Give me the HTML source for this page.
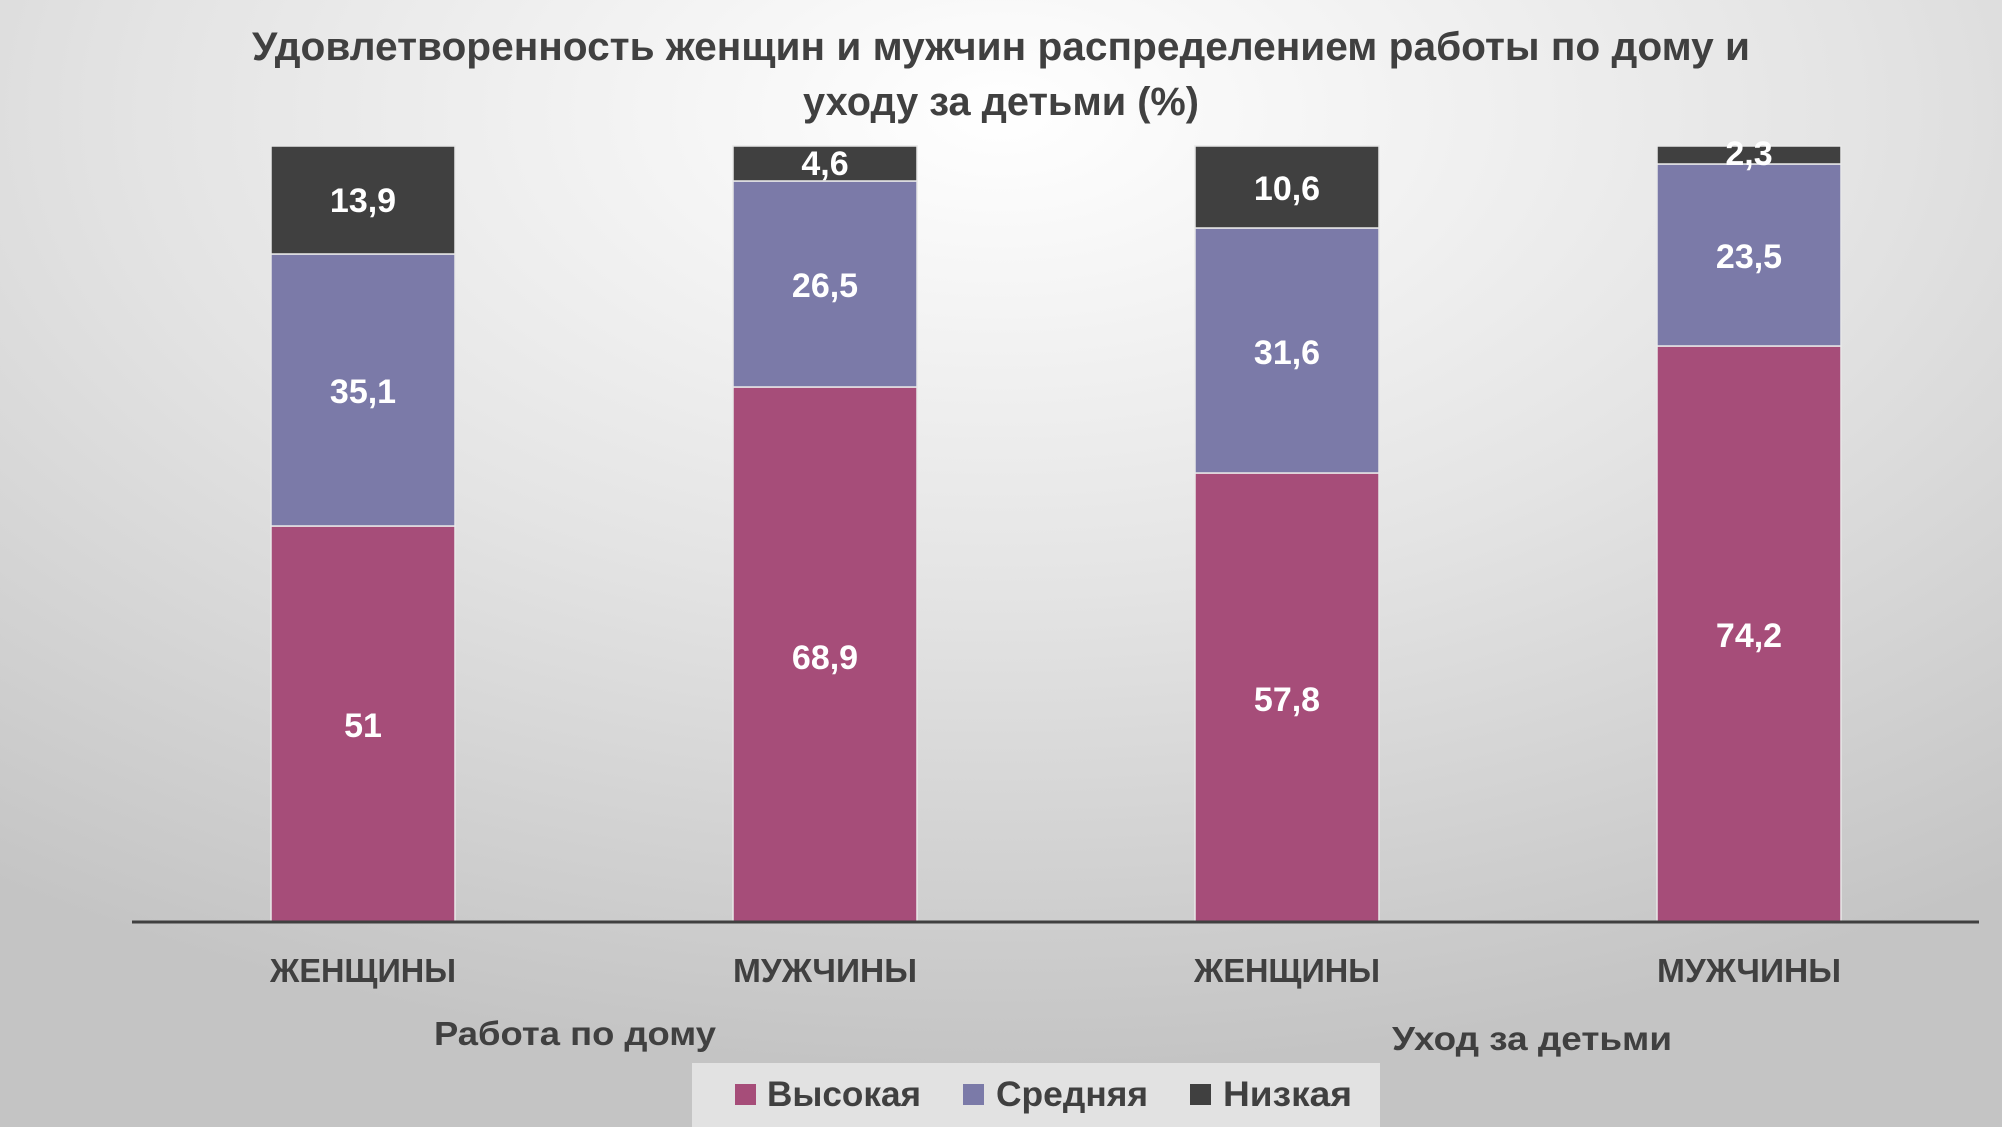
<!DOCTYPE html>
<html><head><meta charset="utf-8"><style>
html,body{margin:0;padding:0;width:2002px;height:1127px;overflow:hidden}
svg{display:block}
text{font-family:"Liberation Sans","DejaVu Sans",sans-serif;font-weight:bold}
</style></head><body>
<svg width="2002" height="1127" viewBox="0 0 2002 1127" xmlns="http://www.w3.org/2000/svg">
<defs>
<radialGradient id="bg" cx="50%" cy="10%" r="85%">
<stop offset="0" stop-color="#ffffff"/>
<stop offset="0.5" stop-color="#e4e4e4"/>
<stop offset="1" stop-color="#c4c4c4"/>
</radialGradient>
</defs>
<rect width="2002" height="1127" fill="url(#bg)"/>
<text x="1001" y="60" font-size="40" fill="#404040" text-anchor="middle" textLength="1498" lengthAdjust="spacingAndGlyphs">Удовлетворенность женщин и мужчин распределением  работы по дому и</text>
<text x="1001" y="115" font-size="40" fill="#404040" text-anchor="middle" textLength="396" lengthAdjust="spacingAndGlyphs">уходу за детьми (%)</text>
<g stroke="#e8e8e8" stroke-width="1.5">
<rect x="271" y="526" width="184" height="396" fill="#a64d79"/>
<rect x="271" y="254" width="184" height="272" fill="#7b7aa8"/>
<rect x="271" y="146" width="184" height="108" fill="#404040"/>
<rect x="733" y="387" width="184" height="535" fill="#a64d79"/>
<rect x="733" y="181" width="184" height="206" fill="#7b7aa8"/>
<rect x="733" y="146" width="184" height="35" fill="#404040"/>
<rect x="1195" y="473" width="184" height="449" fill="#a64d79"/>
<rect x="1195" y="228" width="184" height="245" fill="#7b7aa8"/>
<rect x="1195" y="146" width="184" height="82" fill="#404040"/>
<rect x="1657" y="346" width="184" height="576" fill="#a64d79"/>
<rect x="1657" y="164" width="184" height="182" fill="#7b7aa8"/>
<rect x="1657" y="146" width="184" height="18" fill="#404040"/>
</g>
<line x1="132" y1="922" x2="1979" y2="922" stroke="#404040" stroke-width="3"/>
<g font-size="34" fill="#ffffff" text-anchor="middle">
<text x="363" y="737">51</text>
<text x="363" y="403">35,1</text>
<text x="363" y="212">13,9</text>
<text x="825" y="669">68,9</text>
<text x="825" y="297">26,5</text>
<text x="825" y="175">4,6</text>
<text x="1287" y="711">57,8</text>
<text x="1287" y="364">31,6</text>
<text x="1287" y="200">10,6</text>
<text x="1749" y="647">74,2</text>
<text x="1749" y="268">23,5</text>
<text x="1749" y="165">2,3</text>
</g>
<g font-size="33" fill="#404040" text-anchor="middle">
<text x="363" y="982" textLength="186" lengthAdjust="spacingAndGlyphs">ЖЕНЩИНЫ</text>
<text x="825" y="982" textLength="184" lengthAdjust="spacingAndGlyphs">МУЖЧИНЫ</text>
<text x="1287" y="982" textLength="186" lengthAdjust="spacingAndGlyphs">ЖЕНЩИНЫ</text>
<text x="1749" y="982" textLength="184" lengthAdjust="spacingAndGlyphs">МУЖЧИНЫ</text>
<text x="575" y="1045" textLength="282" lengthAdjust="spacingAndGlyphs">Работа по дому</text>
<text x="1532" y="1050" textLength="280" lengthAdjust="spacingAndGlyphs">Уход за детьми</text>
</g>
<rect x="692" y="1063" width="688" height="64" fill="#e2e2e2"/>
<rect x="735" y="1084" width="21" height="21" fill="#a64d79"/>
<rect x="963" y="1084" width="21" height="21" fill="#7b7aa8"/>
<rect x="1190" y="1084" width="21" height="21" fill="#404040"/>
<g font-size="35" fill="#404040">
<text x="767" y="1106" textLength="154" lengthAdjust="spacingAndGlyphs">Высокая</text>
<text x="996" y="1106" textLength="152" lengthAdjust="spacingAndGlyphs">Средняя</text>
<text x="1223" y="1106" textLength="129" lengthAdjust="spacingAndGlyphs">Низкая</text>
</g>
</svg>
</body></html>
